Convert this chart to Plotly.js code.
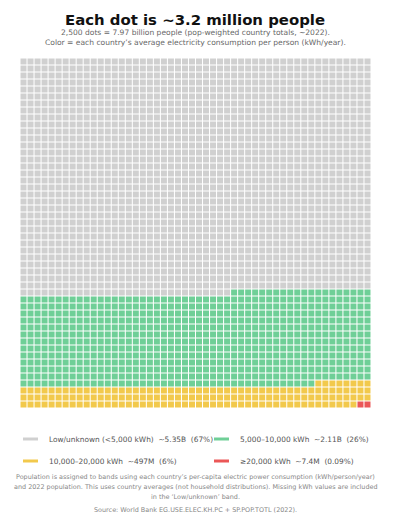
<!DOCTYPE html>
<html>
<head>
<meta charset="utf-8">
<script src="https://cdn.plot.ly/plotly-3.0.1.min.js"></script>
<style>html,body{margin:0;padding:0;background:#fff;}#chart{width:400px;height:528px;}</style>
</head>
<body>
<div id="chart"></div>
<script>
// ---- data ----
const categories = ["Low/unknown (<5,000 kWh)", "5,000–10,000 kWh", "10,000–20,000 kWh", "≥20,000 kWh"];
const dotCounts = [1680, 662, 156, 2];
const populationLabels = ["~5.35B", "~2.11B", "~497M", "~7.4M"];
const shareLabels = ["(67%)", "(26%)", "(6%)", "(0.09%)"];
const colors = ["#D0D0D0", "#6FCF97", "#F2C94C", "#EB5757"];
const gridCols = 50;

// ---- build grid traces ----
const traces = [];
let idx = 0;
categories.forEach((cat, c) => {
  const xs = [], ys = [];
  for (let k = 0; k < dotCounts[c]; k++) {
    xs.push(idx % gridCols);
    ys.push(Math.floor(idx / gridCols));
    idx++;
  }
  traces.push({
    type: "scatter", mode: "markers", x: xs, y: ys, name: cat,
    showlegend: false, hoverinfo: "skip",
    marker: {symbol: "square", size: 6, color: colors[c], line: {width: 0}}
  });
});

// ---- legend via shapes + annotations ----
const shapes = [], annotations = [];
const W = 400, H = 528;
const NB = "\u00A0\u00A0";
const legendPos = [[23, 439], [214, 439], [23, 461], [214, 461]];
categories.forEach((cat, c) => {
  const [px, py] = legendPos[c];
  shapes.push({type: "line", xref: "paper", yref: "paper",
    x0: 0, x1: 0, y0: 0, y1: 0, line: {color: colors[c], width: 3},
    _px: px, _py: py});
  annotations.push({xref: "paper", yref: "paper", _px: px + 24, _py: py,
    text: cat + NB + populationLabels[c] + NB + shareLabels[c],
    showarrow: false, xanchor: "left", yanchor: "middle",
    font: {family: "DejaVu Sans", size: 7.4, color: "#555555"}});
});

const margin = {l: 20, r: 29, t: 58, b: 120};
const pw = W - margin.l - margin.r, ph = H - margin.t - margin.b;
function px2paper(x) { return (x - margin.l) / pw; }
function py2paper(y) { return (H - margin.b - y) / ph; }
shapes.forEach(s => {
  s.x0 = px2paper(s._px); s.x1 = px2paper(s._px + 15);
  s.y0 = s.y1 = py2paper(s._py);
  delete s._px; delete s._py;
});
annotations.forEach(a => {
  a.x = px2paper(a._px); a.y = py2paper(a._py);
  delete a._px; delete a._py;
});

function textAt(y, text, size, color) {
  annotations.push({xref: "paper", yref: "paper", x: px2paper(195.5), y: py2paper(y),
    xanchor: "center", yanchor: "middle", showarrow: false, text: text,
    font: {family: "DejaVu Sans", size: size, color: color}});
}
textAt(32.5, "2,500 dots = 7.97 billion people (pop-weighted country totals, ~2022).", 7.55, "#666666");
textAt(42.3, "Color = each country’s average electricity consumption per person (kWh/year).", 7.55, "#666666");
textAt(477, "Population is assigned to bands using each country’s per-capita electric power consumption (kWh/person/year)", 6.45, "#888888");
textAt(487, "and 2022 population. This uses country averages (not household distributions). Missing kWh values are included", 6.45, "#888888");
textAt(497, "in the ‘Low/unknown’ band.", 6.45, "#888888");
textAt(510, "Source: World Bank EG.USE.ELEC.KH.PC + SP.POP.TOTL (2022).", 6.45, "#888888");

const layout = {
  width: W, height: H, margin: margin,
  paper_bgcolor: "#ffffff", plot_bgcolor: "#ffffff",
  title: {text: "Each dot is ~3.2 million people", x: 0.4875, xanchor: "center", y: 0.963, yanchor: "middle",
    font: {family: "DejaVu Sans", size: 14.9, color: "#111111", weight: "bold"}},
  xaxis: {range: [-0.5, gridCols - 0.5], visible: false, fixedrange: true},
  yaxis: {range: [gridCols - 0.5, -0.5], visible: false, fixedrange: true},
  shapes: shapes, annotations: annotations, showlegend: false
};
Plotly.newPlot("chart", traces, layout, {displayModeBar: false, staticPlot: true});
</script>
</body>
</html>
